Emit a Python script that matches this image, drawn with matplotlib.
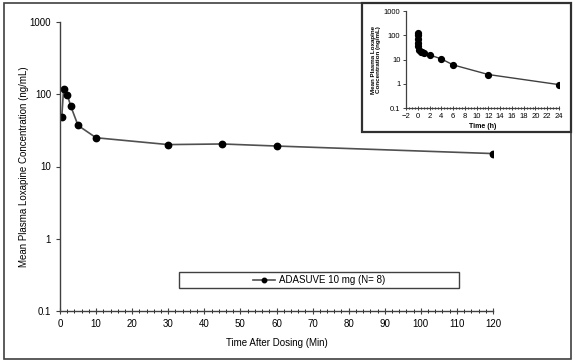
import matplotlib.pyplot as plt
from matplotlib.patches import Rectangle
from matplotlib.ticker import MultipleLocator, FixedLocator, NullLocator

plt.rcParams['font.family'] = ['Liberation Sans', 'DejaVu Sans']

# main plot, first 2 hours (min)
t_min = [0.5, 1, 2, 3, 5, 10, 30, 45, 60, 120]
conc_min = [49, 119, 99, 68, 37, 25, 20.1, 20.5, 19.2, 15.1]

# inset, 24 hours (h)
t_h = [0.0083, 0.0167, 0.033, 0.05, 0.083, 0.167, 0.5, 0.75, 1, 2, 4, 6, 12, 24]
conc_h = [49, 119, 99, 68, 37, 25, 20.1, 20.5, 19.2, 15.5, 10.6, 6.0, 2.4, 0.92]

fig = plt.figure(figsize=(5.76, 3.64), dpi=100)

# outer frame
fig.patches.append(Rectangle((4 / 576, 1 - 359 / 364), 567 / 576, 356 / 364,
                             transform=fig.transFigure, fill=False,
                             edgecolor='#404040', linewidth=1.2))

ax = fig.add_axes([60 / 576, 1 - 311 / 364, 433 / 576, 289 / 364])
ax.plot(t_min, conc_min, color='#505050', linewidth=1.2, marker='o',
        markersize=4.6, markerfacecolor='black', markeredgecolor='black',
        label='ADASUVE 10 mg (N= 8)')
ax.set_yscale('log')
ax.set_ylim(0.1, 1000)
ax.set_xlim(0, 120)
ax.xaxis.set_major_locator(MultipleLocator(10))
ax.xaxis.set_minor_locator(MultipleLocator(2))
ax.yaxis.set_major_locator(FixedLocator([0.1, 1, 10, 100, 1000]))
ax.yaxis.set_minor_locator(NullLocator())
ax.set_yticklabels(['0.1', '1', '10', '100', '1000'])
for s in ['top', 'right']:
    ax.spines[s].set_visible(False)
for s in ['left', 'bottom']:
    ax.spines[s].set_color('#404040')
    ax.spines[s].set_linewidth(1.0)
ax.tick_params(axis='both', labelsize=7, color='#404040', width=0.8)
ax.tick_params(axis='x', which='major', direction='inout', length=5)
ax.tick_params(axis='x', which='minor', direction='inout', length=2.5)
ax.tick_params(axis='y', which='major', direction='out', length=3)
ax.set_xlabel('Time After Dosing (Min)', fontsize=7, labelpad=6)
ax.set_ylabel('Mean Plasma Loxapine Concentration (ng/mL)', fontsize=7)
ax.yaxis.set_label_coords(-0.072, 0.5)

# legend box with centred content
fig.patches.append(Rectangle((179 / 576, 1 - 288 / 364), 280 / 576, 16 / 364,
                             transform=fig.transFigure, fill=False,
                             edgecolor='#404040', linewidth=1.0))
leg = ax.legend(loc='center', bbox_to_anchor=(319 / 576, 1 - 280 / 364),
                bbox_transform=fig.transFigure, fontsize=7, frameon=False,
                handlelength=2.3, handletextpad=0.4, markerscale=0.7)

# inset frame
fig.patches.append(Rectangle((362 / 576, 1 - 132 / 364), 209 / 576, 129 / 364,
                             transform=fig.transFigure, facecolor='white',
                             edgecolor='#303030', linewidth=1.6, zorder=5))

ax2 = fig.add_axes([406 / 576, 1 - 108 / 364, 153 / 576, 97 / 364], zorder=6)
ax2.plot(t_h, conc_h, color='#404040', linewidth=1.0, marker='o',
         markersize=4.2, markerfacecolor='black', markeredgecolor='black')
ax2.set_yscale('log')
ax2.set_ylim(0.1, 1000)
ax2.set_xlim(-2, 24)
ax2.xaxis.set_major_locator(MultipleLocator(2))
ax2.xaxis.set_minor_locator(MultipleLocator(0.5))
ax2.yaxis.set_major_locator(FixedLocator([0.1, 1, 10, 100, 1000]))
ax2.yaxis.set_minor_locator(NullLocator())
ax2.set_yticklabels(['0.1', '1', '10', '100', '1000'])
for s in ['top', 'right']:
    ax2.spines[s].set_visible(False)
for s in ['left', 'bottom']:
    ax2.spines[s].set_color('#404040')
    ax2.spines[s].set_linewidth(0.9)
ax2.tick_params(axis='both', labelsize=5.5, color='#404040', width=0.7, pad=2)
ax2.tick_params(axis='x', which='major', direction='inout', length=3)
ax2.tick_params(axis='x', which='minor', direction='inout', length=1.5)
ax2.tick_params(axis='y', which='major', direction='out', length=2)
ax2.set_xlabel('Time (h)', fontsize=5, fontweight='bold', labelpad=2)
ax2.set_ylabel('Mean Plasma Loxapine\nConcentration (ng/mL)', fontsize=4.5,
               fontweight='bold', labelpad=2, linespacing=1.1)

fig.savefig('out.png', dpi=100)
